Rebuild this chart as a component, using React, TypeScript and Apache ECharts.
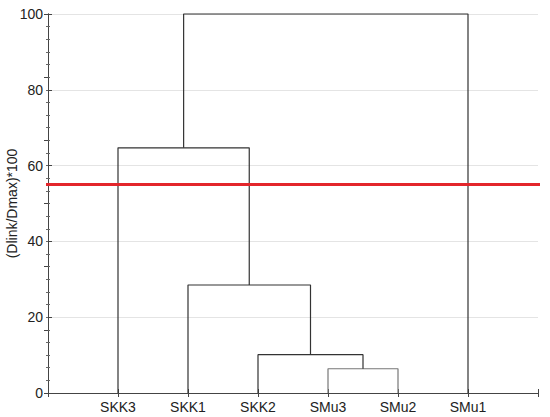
import React, { useEffect, useRef } from "react";
import * as echarts from "echarts";

const categories = ["SKK3", "SKK1", "SKK2", "SMu3", "SMu2", "SMu1"];
// children indices: 0-5 leaves, 6+ merges (in order)
const mergeLeft = [3, 2, 1, 0, 9];
const mergeRight = [4, 6, 7, 8, 5];
const mergeHeight = [6.4, 10.1, 28.5, 64.7, 100];
const mergeColor = ["#777777", "#333333", "#333333", "#333333", "#333333"];
const threshold = 55;
const yTicks = [0, 20, 40, 60, 80, 100];

export default function App() {
  const ref = useRef<HTMLDivElement>(null);
  useEffect(() => {
    if (!ref.current) return;
    document.body.style.margin = "0";
    const chart = echarts.init(ref.current, undefined, { renderer: "svg" });
    const n = categories.length;
    const nodeX: number[] = categories.map((_, i) => i + 1);
    const nodeH: number[] = categories.map(() => 0);
    const linkSeries: any[] = [];
    mergeHeight.forEach((h, k) => {
      const l = mergeLeft[k];
      const r = mergeRight[k];
      const xl = nodeX[l];
      const xr = nodeX[r];
      nodeX[n + k] = (xl + xr) / 2;
      nodeH[n + k] = h;
      linkSeries.push({
        type: "line",
        data: [
          [xl, nodeH[l]],
          [xl, h],
          [xr, h],
          [xr, nodeH[r]],
        ],
        symbol: "none",
        clip: false,
        silent: true,
        lineStyle: { color: mergeColor[k], width: 1.2 },
        z: 3,
      });
    });
    const axisLineStyle = { color: "#444444", width: 1 };
    chart.setOption({
      animation: false,
      grid: {
        left: 48,
        right: 12,
        top: 14,
        bottom: 24,
        containLabel: false,
        outerBoundsMode: "none",
      },
      xAxis: [
        {
          type: "value",
          min: 0,
          max: n + 1,
          interval: 1,
          position: "bottom",
          axisLine: { show: true, lineStyle: axisLineStyle },
          axisTick: { show: true, inside: true, length: 4, lineStyle: axisLineStyle },
          splitLine: { show: false },
          axisLabel: {
            margin: 7,
            fontSize: 14,
            color: "#222222",
            fontFamily: "Liberation Sans, Arial, sans-serif",
            formatter: (v: number) => categories[Math.round(v) - 1] || "",
          },
        },
        {
          type: "value",
          min: 0,
          max: n + 1,
          interval: 1,
          position: "top",
          axisLine: { show: true, lineStyle: axisLineStyle },
          axisTick: { show: true, inside: true, length: 4, lineStyle: axisLineStyle },
          splitLine: { show: false },
          axisLabel: { show: false },
        },
      ],
      yAxis: [
        {
          type: "value",
          min: yTicks[0],
          max: yTicks[yTicks.length - 1],
          interval: 20,
          position: "left",
          name: "(Dlink/Dmax)*100",
          nameLocation: "middle",
          nameGap: 29,
          nameMoveOverlap: false,
          nameTextStyle: {
            fontSize: 14,
            color: "#222222",
            fontFamily: "Liberation Sans, Arial, sans-serif",
          },
          axisLine: { show: true, lineStyle: axisLineStyle },
          axisTick: { show: true, inside: true, length: 4, lineStyle: axisLineStyle },
          minorTick: { show: true, splitNumber: 6, length: 2, lineStyle: { color: "#666666" } },
          splitLine: { show: true, lineStyle: { color: "#e4e4e4", width: 1 } },
          axisLabel: {
            margin: 5,
            fontSize: 14,
            color: "#222222",
            fontFamily: "Liberation Sans, Arial, sans-serif",
          },
        },
        {
          type: "value",
          min: 0,
          max: 100,
          interval: 100 / 6,
          position: "right",
          axisLine: { show: true, lineStyle: axisLineStyle },
          axisTick: { show: true, inside: true, length: 4, lineStyle: axisLineStyle },
          minorTick: { show: true, splitNumber: 5, length: 2, lineStyle: { color: "#666666" } },
          splitLine: { show: false },
          axisLabel: { show: false },
        },
      ],
      series: [
        ...linkSeries,
        {
          type: "line",
          data: [
            [-0.143, threshold],
            [n + 1.086, threshold],
          ],
          symbol: "none",
          clip: false,
          silent: true,
          lineStyle: { color: "#e3262b", width: 3 },
          z: 5,
        },
      ],
    });
    return () => chart.dispose();
  }, []);
  return <div ref={ref} style={{ width: 550, height: 417 }} />;
}
